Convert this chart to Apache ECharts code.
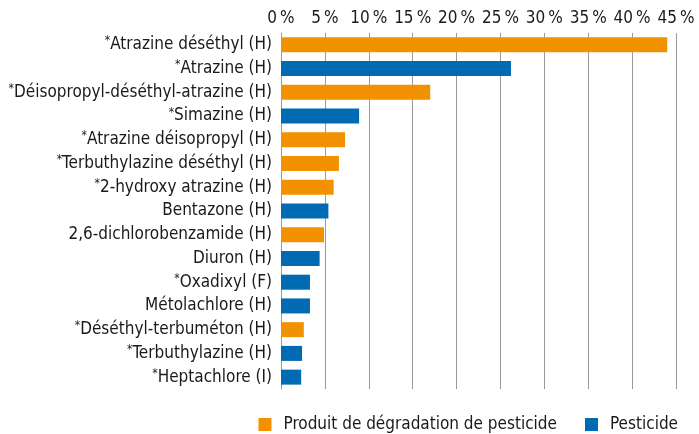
<!DOCTYPE html>
<html>
<head>
<meta charset="utf-8">
<script src="https://cdn.jsdelivr.net/npm/echarts@6/dist/echarts.min.js"></script>
<style>
    html, body { margin: 0; padding: 0; background: #fff; }
    #chart { width: 699px; height: 434px; }
</style>
</head>
<body>
<div id="chart"></div>
<script>
// catégories (haut -> bas), '*' = marqueur en exposant
const categories = [
    '*Atrazine déséthyl (H)',
    '*Atrazine (H)',
    '*Déisopropyl-déséthyl-atrazine (H)',
    '*Simazine (H)',
    '*Atrazine déisopropyl (H)',
    '*Terbuthylazine déséthyl (H)',
    '*2-hydroxy atrazine (H)',
    'Bentazone (H)',
    '2,6-dichlorobenzamide (H)',
    'Diuron (H)',
    '*Oxadixyl (F)',
    'Métolachlore (H)',
    '*Déséthyl-terbuméton (H)',
    '*Terbuthylazine (H)',
    '*Heptachlore (I)'
];
// pourcentages
const values = [44.0, 26.2, 17.0, 8.9, 7.3, 6.6, 6.0, 5.4, 4.9, 4.4, 3.3, 3.3, 2.6, 2.4, 2.3];
// d = produit de dégradation, p = pesticide
const kinds = ['d', 'p', 'd', 'p', 'd', 'd', 'd', 'p', 'd', 'p', 'p', 'p', 'd', 'p', 'p'];
const seriesNames = ['Produit de dégradation de pesticide', 'Pesticide'];
const xTicks = [0, 5, 10, 15, 20, 25, 30, 35, 40, 45];

const ORANGE = '#F39200';
const BLUE = '#006AB3';
const FONT = '"Liberation Sans Narrow", "DejaVu Sans Condensed", sans-serif';

const degradData = values.map((v, i) => (kinds[i] === 'd' ? v : '-'));
const pestData = values.map((v, i) => (kinds[i] === 'p' ? v : '-'));

const chart = echarts.init(document.getElementById('chart'), null, { renderer: 'canvas' });

const option = {
    animation: false,
    textStyle: { fontFamily: FONT, color: '#1a1a1a' },
    grid: { left: 281, right: 23, top: 33, bottom: 45, containLabel: false },
    legend: {
        right: 16,
        top: 411,
        icon: 'rect',
        itemWidth: 13,
        itemHeight: 13,
        itemGap: 28,
        data: seriesNames,
        textStyle: { fontFamily: FONT, fontSize: 17, color: '#1a1a1a', padding: [0, 0, 0, 7] }
    },
    xAxis: {
        type: 'value',
        position: 'top',
        min: xTicks[0],
        max: xTicks[xTicks.length - 1],
        interval: 5,
        axisLine: { show: false },
        axisTick: { show: false },
        axisLabel: {
            margin: 6,
            fontSize: 17,
            color: '#1a1a1a',
            fontFamily: FONT,
            formatter: v => v + '\u2009%'
        },
        splitLine: { show: true, lineStyle: { color: '#9a9a9a', width: 1 } }
    },
    yAxis: {
        type: 'category',
        inverse: true,
        data: categories,
        axisLine: { show: true, lineStyle: { color: '#9a9a9a', width: 1 } },
        axisTick: { show: false },
        axisLabel: {
            margin: 9,
            fontSize: 17,
            color: '#1a1a1a',
            fontFamily: FONT,
            formatter: v => (v.startsWith('*') ? '{s|*}{t|' + v.slice(1) + '}' : '{t|' + v + '}'),
            rich: {
                s: { fontSize: 12, verticalAlign: 'top', lineHeight: 19, fontFamily: FONT, color: '#1a1a1a' },
                t: { fontSize: 17, lineHeight: 19, fontFamily: FONT, color: '#1a1a1a' }
            }
        }
    },
    series: [
        {
            name: seriesNames[0],
            type: 'bar',
            stack: 'all',
            barWidth: 15,
            itemStyle: { color: ORANGE },
            data: degradData
        },
        {
            name: seriesNames[1],
            type: 'bar',
            stack: 'all',
            barWidth: 15,
            itemStyle: { color: BLUE },
            data: pestData
        }
    ]
};

chart.setOption(option);
</script>
</body>
</html>
